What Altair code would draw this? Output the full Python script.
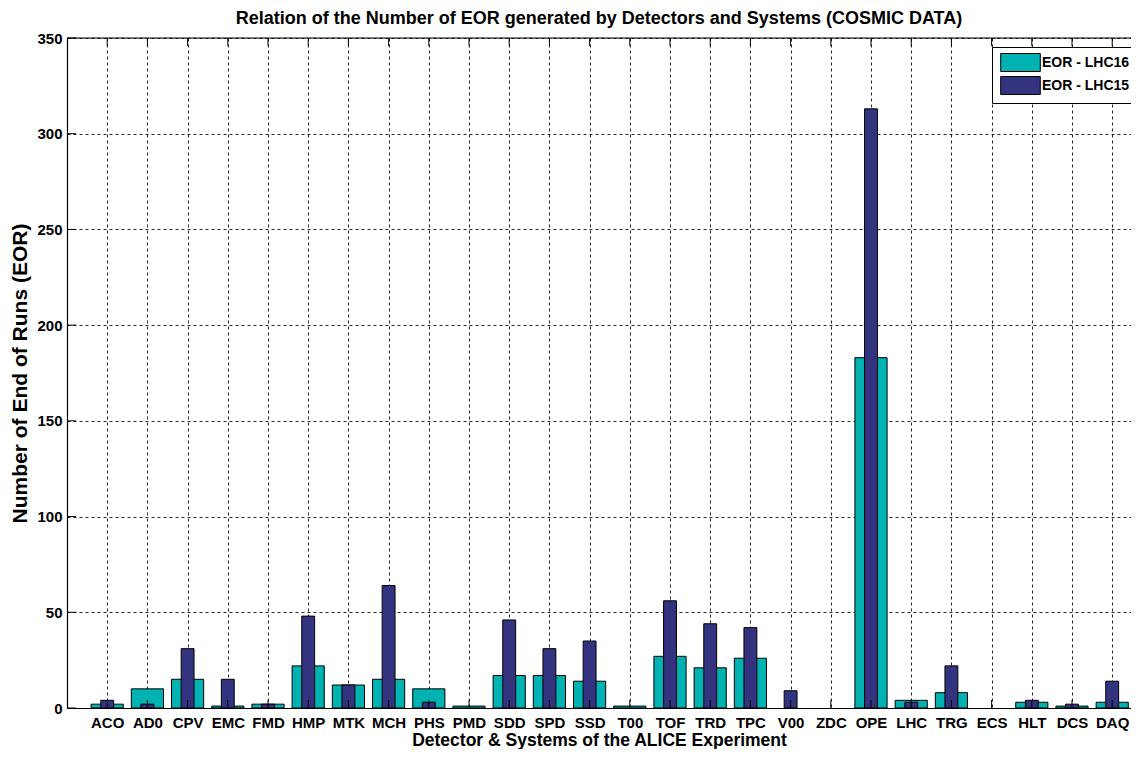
import altair as alt
import pandas as pd

categories = ["ACO", "AD0", "CPV", "EMC", "FMD", "HMP", "MTK", "MCH", "PHS", "PMD",
              "SDD", "SPD", "SSD", "T00", "TOF", "TRD", "TPC", "V00", "ZDC", "OPE",
              "LHC", "TRG", "ECS", "HLT", "DCS", "DAQ"]
eor_lhc16 = [2, 10, 15, 1, 2, 22, 12, 15, 10, 1, 17, 17, 14, 1, 27, 21, 26, 0, 0, 183,
             4, 8, 0, 3, 1, 3]
eor_lhc15 = [4, 2, 31, 15, 2, 48, 12, 64, 3, 0, 46, 31, 35, 0, 56, 44, 42, 9, 0, 313,
             3, 22, 0, 4, 2, 14]
series_names = ["EOR - LHC16", "EOR - LHC15"]
y_ticks = [0, 50, 100, 150, 200, 250, 300, 350]

W, H = 1064, 670
XMAX = W / 40.2
FONT = "Liberation Sans"
TEAL = "#00B2B2"
NAVY = "#333380"

df = pd.DataFrame({
    "cat": categories,
    "idx": list(range(1, len(categories) + 1)),
    "lhc16": eor_lhc16,
    "lhc15": eor_lhc15,
})
yt = pd.DataFrame({"tick": y_ticks})

label_expr = "[" + ",".join(f"'{c}'" for c in categories) + "][datum.value - 1]"

xscale = alt.Scale(domain=[0, XMAX], nice=False, zero=False)
yscale = alt.Scale(domain=[0, 350], nice=False)

xaxis = alt.Axis(
    values=list(range(1, len(categories) + 1)), labelExpr=label_expr,
    title="Detector & Systems of the ALICE Experiment",
    grid=True, gridDash=[3, 3], gridColor="black", gridOpacity=0.85, gridWidth=1,
    tickSize=0, domainColor="black", domainWidth=1.2,
    labelFont=FONT, labelFontWeight="bold", labelFontSize=15, labelColor="black",
    labelPadding=7, labelAngle=0, labelOverlap=False, labelFlush=False,
    titleFont=FONT, titleFontWeight="bold", titleFontSize=17.5, titleColor="black",
    titlePadding=1,
)
yaxis = alt.Axis(
    values=y_ticks, title="Number of End of Runs (EOR)",
    grid=True, gridDash=[3, 3], gridColor="black", gridOpacity=0.85, gridWidth=1,
    tickSize=0, domainColor="black", domainWidth=1.2,
    labelFont=FONT, labelFontWeight="bold", labelFontSize=15, labelColor="black",
    labelPadding=5,
    titleFont=FONT, titleFontWeight="bold", titleFontSize=21, titleColor="black",
    titlePadding=6,
)

legend = alt.Legend(
    title=None, orient="none", legendX=925, legendY=9,
    fillColor="white", strokeColor="black", padding=6,
    labelFont=FONT, labelFontSize=14, labelFontWeight="bold", labelColor="black",
    symbolType="M-2.2,-1H2.2V1H-2.2Z", symbolSize=324, symbolOffset=13,
    symbolStrokeColor="black", symbolStrokeWidth=1, symbolOpacity=1,
    rowPadding=0, labelOffset=12,
)
color = alt.Color("series:N", scale=alt.Scale(domain=series_names, range=[TEAL, NAVY]),
                  legend=legend)

teal = alt.Chart(df).transform_filter("datum.lhc16 > 0").transform_calculate(
    x0="datum.idx - 0.4", x1="datum.idx + 0.4", series="'EOR - LHC16'"
).mark_bar(stroke="black", strokeWidth=1, opacity=1).encode(
    x=alt.X("x0:Q", scale=xscale, axis=xaxis),
    x2="x1:Q",
    y=alt.Y("lhc16:Q", scale=yscale, axis=yaxis),
    y2=alt.datum(0),
    color=color,
)

navy = alt.Chart(df).transform_filter("datum.lhc15 > 0").transform_calculate(
    x0="datum.idx - 0.16", x1="datum.idx + 0.16", series="'EOR - LHC15'"
).mark_bar(stroke="black", strokeWidth=1, opacity=1).encode(
    x=alt.X("x0:Q", scale=xscale),
    x2="x1:Q",
    y=alt.Y("lhc15:Q", scale=yscale),
    y2=alt.datum(0),
    color=color,
)

top_ticks = alt.Chart(df).mark_rule(color="black", strokeWidth=1).encode(
    x=alt.X("idx:Q", scale=xscale), y=alt.value(0), y2=alt.value(8)
)
bottom_ticks = alt.Chart(df).mark_rule(color="black", strokeWidth=1).encode(
    x=alt.X("idx:Q", scale=xscale), y=alt.value(H - 8), y2=alt.value(H)
)
left_ticks = alt.Chart(yt).mark_rule(color="black", strokeWidth=1).encode(
    y=alt.Y("tick:Q", scale=yscale), x=alt.value(0), x2=alt.value(9)
)
frame_top = alt.Chart(pd.DataFrame({"edge": ["top"]})).mark_rule(
    color="black", strokeWidth=1.2
).encode(x=alt.value(0), x2=alt.value(W), y=alt.value(0))

chart = alt.layer(teal, navy, top_ticks, bottom_ticks, left_ticks, frame_top).properties(
    width=W, height=H,
    title=alt.TitleParams(
        "Relation of the Number of EOR generated by Detectors and Systems (COSMIC DATA)",
        font=FONT, fontSize=18, fontWeight="bold", color="black", anchor="middle", offset=3,
    ),
    autosize=alt.AutoSizeParams(type="none"),
    padding={"left": 59, "top": 30, "right": 0, "bottom": 41},
).configure_view(stroke=None).configure(background="white")

chart.save("out.html", embed_options={"renderer": "svg", "actions": False})
